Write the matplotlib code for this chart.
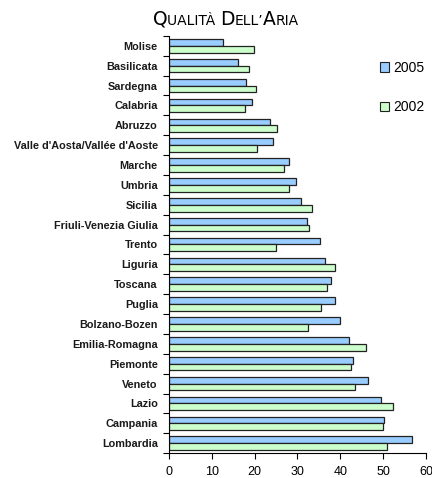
import matplotlib
matplotlib.use("Agg")
import matplotlib.pyplot as plt
import numpy as np
from matplotlib.patches import Patch
from matplotlib.offsetbox import TextArea, HPacker, AnchoredOffsetbox

# Regions listed bottom to top
regions = ["Lombardia", "Campania", "Lazio", "Veneto", "Piemonte",
           "Emilia-Romagna", "Bolzano-Bozen", "Puglia", "Toscana", "Liguria",
           "Trento", "Friuli-Venezia Giulia", "Sicilia", "Umbria", "Marche",
           "Valle d'Aosta/Vallée d'Aoste", "Abruzzo", "Calabria", "Sardegna",
           "Basilicata", "Molise"]
vals_2005 = [56.7, 50.2, 49.6, 46.5, 42.9, 42.0, 40.0, 38.7, 37.8, 36.4,
             35.3, 32.2, 30.8, 29.6, 28.0, 24.4, 23.5, 19.3, 18.1, 16.1, 12.7]
vals_2002 = [51.0, 49.9, 52.2, 43.4, 42.6, 45.9, 32.5, 35.6, 37.0, 38.7,
             25.1, 32.7, 33.3, 28.0, 26.9, 20.6, 25.2, 17.8, 20.4, 18.7, 19.8]
xticks = [0, 10, 20, 30, 40, 50, 60]

plt.rcParams['font.family'] = ['Liberation Sans', 'DejaVu Sans']

fig = plt.figure(figsize=(4.32, 4.78), dpi=100)
ax = fig.add_axes([0.391, 0.052, 0.595, 0.873])

y = np.arange(len(regions))
h = 0.34
ax.barh(y + h / 2, vals_2005, height=h, color="#99ccff",
        edgecolor="#222222", linewidth=0.9, label="2005")
ax.barh(y - h / 2, vals_2002, height=h, color="#ccffcc",
        edgecolor="#222222", linewidth=0.9, label="2002")

ax.set_xlim(0, 60)
ax.set_ylim(-0.5, len(regions) - 0.5)
ax.set_xticks(xticks)
ax.tick_params(axis="x", direction="out", length=4, width=0.8,
               labelsize=9, pad=5, colors="black")

# tick marks on the category borders, labels at the centres
ax.set_yticks(np.arange(len(regions) + 1) - 0.5)
ax.set_yticklabels([])
ax.tick_params(axis="y", which="major", direction="out", length=4, width=0.8)
ax.set_yticks(y, minor=True)
ax.set_yticklabels(regions, minor=True, fontsize=7.8, fontweight="bold",
                   color="#1a1a1a")
ax.tick_params(axis="y", which="minor", length=0, pad=8)

for side in ["top", "right"]:
    ax.spines[side].set_visible(False)
for side in ["left", "bottom"]:
    ax.spines[side].set_linewidth(0.8)

handles = [Patch(facecolor="#99ccff", edgecolor="#222222", linewidth=0.8),
           Patch(facecolor="#ccffcc", edgecolor="#222222", linewidth=0.8)]
fig.legend(handles, ["2005", "2002"], loc="upper left",
           bbox_to_anchor=(0.851, 0.899), frameon=False, fontsize=10,
           handlelength=0.65, handleheight=0.65, handletextpad=0.3,
           labelspacing=1.85)

# small-caps title
parts = [("Q", 13.5), ("UALITÀ ", 10), ("D", 13.5), ("ELL\u2019", 10),
         ("A", 13.5), ("RIA", 10)]
boxes = [TextArea(s, textprops=dict(fontsize=sz, color="black",
                                    family="DejaVu Sans"))
         for s, sz in parts]
title = HPacker(children=boxes, align="baseline", pad=0, sep=0)
anchored = AnchoredOffsetbox(loc="center", child=title, frameon=False,
                             bbox_to_anchor=(0.523, 0.96),
                             bbox_transform=fig.transFigure, pad=0,
                             borderpad=0)
fig.add_artist(anchored)

fig.savefig("out.png", dpi=100)
